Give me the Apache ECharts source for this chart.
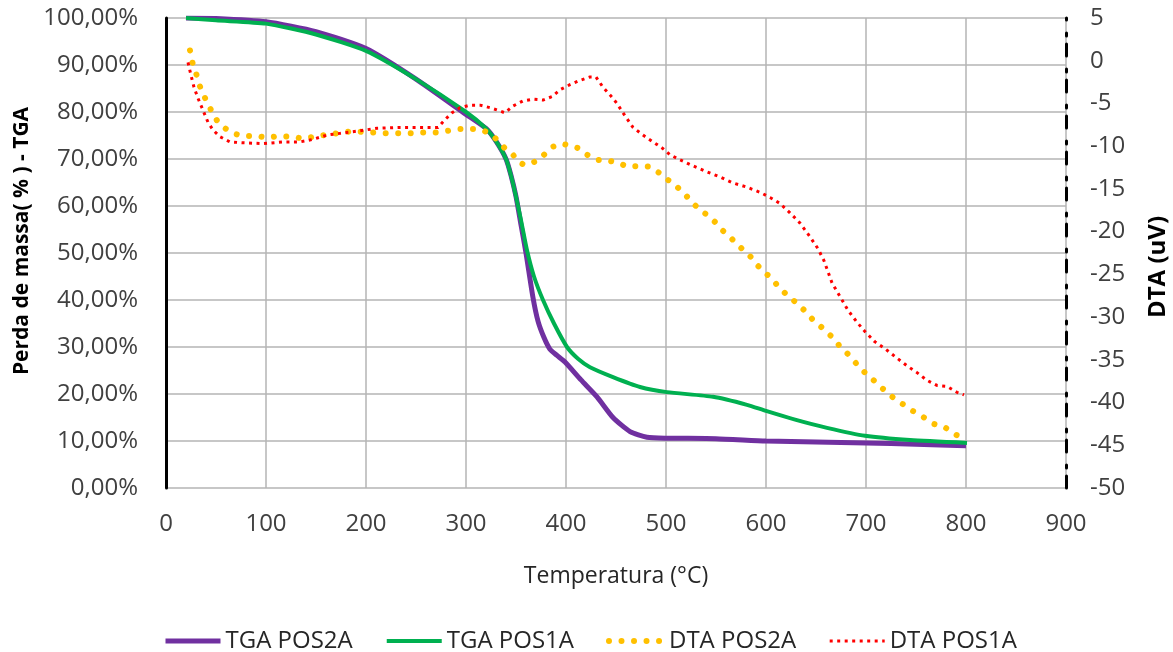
<!DOCTYPE html>
<html>
<head>
<meta charset="utf-8">
<script src="https://cdn.jsdelivr.net/npm/echarts@6/dist/echarts.min.js"></script>
<style>
html,body{margin:0;padding:0;background:#fff;}
#chart{width:1173px;height:652px;}
</style>
</head>
<body>
<div id="chart"></div>
<script>
// ---- Data ----
var seriesNames = ['TGA POS2A', 'TGA POS1A', 'DTA POS2A', 'DTA POS1A'];
var xTicks = [0, 100, 200, 300, 400, 500, 600, 700, 800, 900];

var tgaPos2A_T = [20, 50, 100, 150, 200, 250, 300, 320, 330, 340, 345, 350, 355, 360, 367, 372, 378, 384, 391, 399, 415, 431, 447, 464, 481, 500, 550, 600, 650, 700, 750, 800];
var tgaPos2A_V = [100, 99.9, 99.2, 97.1, 93.5, 87, 79.5, 76.5, 73.8, 70, 66.5, 62, 56, 50, 40.5, 35.5, 32, 29.5, 28.2, 26.8, 23, 19.4, 15, 12, 10.8, 10.6, 10.5, 10.0, 9.8, 9.6, 9.3, 9.0];

var tgaPos1A_T = [20, 50, 100, 150, 200, 250, 300, 320, 330, 340, 345, 350, 355, 361, 368, 377, 388, 401, 412, 424, 447, 474, 501, 547, 581, 600, 630, 661, 699, 744, 801];
var tgaPos1A_V = [100, 99.5, 98.8, 96.5, 93, 87, 80, 76.5, 73.8, 70, 66.5, 62, 57, 50.6, 45, 40, 35, 30, 27.5, 25.7, 23.6, 21.5, 20.4, 19.4, 17.7, 16.4, 14.5, 12.8, 11.1, 10.2, 9.6];

var dtaPos2A_T = [24, 27, 31, 34, 38, 42, 47, 52, 59, 67, 77, 90, 102, 114, 125, 137, 148, 159, 171, 183, 194, 207, 219, 232, 245, 257, 270, 282, 294, 307, 318, 327, 334, 340, 347, 353, 359, 365, 373, 379, 386, 395, 404, 414, 421, 431, 443, 453, 462, 474, 484, 493, 500, 508, 515, 521, 528, 536, 544, 551, 557, 564, 571, 579, 586, 592, 599, 606, 612, 619, 626, 633, 640, 646, 653, 660, 667, 673, 679, 686, 692, 699, 706, 712, 721, 728, 737, 744, 752, 760, 768, 779, 787, 794, 800];
var dtaPos2A_V = [1.2, -0.5, -1.8, -3, -4.1, -5.1, -6.2, -7.2, -7.9, -8.5, -8.8, -8.8, -9, -8.8, -8.9, -9.1, -8.9, -8.7, -8.5, -8.3, -8.3, -8.4, -8.5, -8.5, -8.5, -8.4, -8.4, -8.2, -8.0, -8.0, -8.2, -8.8, -9.6, -10.4, -11.0, -11.9, -12.2, -12.0, -11.6, -10.9, -10.1, -9.7, -9.9, -10.3, -11.0, -11.6, -11.7, -12.0, -12.4, -12.3, -12.4, -13.1, -13.8, -14.4, -15.2, -15.9, -16.8, -17.6, -18.3, -19.1, -19.9, -20.6, -21.5, -22.3, -23.1, -24.0, -24.8, -25.5, -26.4, -27.2, -27.9, -28.6, -29.4, -30.2, -30.9, -31.7, -32.4, -33.3, -34.0, -34.8, -35.7, -36.5, -37.2, -37.9, -38.8, -39.5, -40.2, -40.8, -41.3, -41.9, -42.5, -42.9, -43.6, -44.0, -44.3];

var dtaPos1A_T = [22, 25, 28, 32, 37, 42, 47, 54, 64, 77, 97, 117, 134, 147, 161, 174, 194, 211, 234, 264, 272, 279, 286, 294, 304, 314, 324, 332, 339, 347, 357, 367, 377, 386, 394, 404, 414, 424, 430, 437, 444, 451, 457, 467, 477, 487, 496, 504, 514, 527, 541, 554, 567, 581, 594, 604, 614, 624, 634, 644, 652, 658, 666, 674, 682, 691, 699, 709, 719, 731, 741, 751, 761, 771, 781, 791, 798];
var dtaPos1A_V = [-0.2, -1.7, -3.1, -4.4, -5.8, -7.2, -8.1, -8.9, -9.5, -9.6, -9.7, -9.5, -9.5, -9.2, -8.7, -8.5, -8.2, -7.9, -7.8, -7.8, -7.8, -6.9, -6.1, -5.5, -5.2, -5.2, -5.5, -5.8, -6.1, -5.3, -4.7, -4.5, -4.6, -4.2, -3.4, -2.8, -2.3, -1.9, -1.9, -3.1, -4.0, -5.0, -6.1, -7.8, -8.7, -9.5, -10.2, -11.0, -11.6, -12.3, -13.0, -13.6, -14.3, -14.8, -15.4, -16.0, -16.7, -17.8, -19.0, -20.6, -22.0, -23.4, -26.0, -27.6, -29.2, -30.6, -31.7, -32.9, -33.7, -34.8, -35.7, -36.5, -37.4, -38.0, -38.1, -38.8, -39.1];

function pairs(xs, ys) { return xs.map(function (x, i) { return [x, ys[i]]; }); }

var FONT = 'Open Sans';
var chart = echarts.init(document.getElementById('chart'), null, { renderer: 'canvas' });
chart.setOption({
  animation: false,
  backgroundColor: '#ffffff',
  grid: { left: 166, right: 107, top: 18, bottom: 164, containLabel: false, outerBoundsMode: 'none' },
  legend: {
    data: [
      { name: seriesNames[0], lineStyle: { width: 5 } },
      { name: seriesNames[1], lineStyle: { width: 4 } },
      { name: seriesNames[2], lineStyle: { width: 6 } },
      { name: seriesNames[3], lineStyle: { width: 3 } }
    ],
    left: 158, top: 624,
    itemWidth: 55, itemHeight: 20, itemGap: 32,
    itemStyle: { opacity: 0 },
    textStyle: { fontFamily: FONT, fontSize: 24, color: '#262626' }
  },
  xAxis: {
    type: 'value', min: 0, max: 900, interval: 100,
    name: 'Temperatura (°C)', nameLocation: 'middle', nameGap: 77,
    nameTextStyle: { fontFamily: FONT, fontSize: 23, color: '#262626' },
    axisLine: { show: false }, axisTick: { show: false },
    axisLabel: { fontFamily: FONT, fontSize: 24, color: '#404040', margin: 24 },
    splitLine: { show: true, lineStyle: { color: '#b4b4b4', width: 1.5 } }
  },
  yAxis: [{
    type: 'value', min: 0, max: 100, interval: 10, position: 'left',
    name: 'Perda de massa( % ) - TGA', nameLocation: 'middle', nameGap: 131,
    nameTextStyle: { fontFamily: FONT, fontSize: 21, fontWeight: 'bold', color: '#000', padding: [0, 0, 0, 24] },
    axisLine: { show: true, lineStyle: { color: '#000', width: 3 } },
    axisTick: { show: false },
    axisLabel: { fontFamily: FONT, fontSize: 24, color: '#404040', margin: 28,
      formatter: function (v) { return v.toFixed(2).replace('.', ',') + '%'; } },
    splitLine: { show: true, lineStyle: { color: '#b4b4b4', width: 1.5 } }
  }, {
    type: 'value', min: -50, max: 5, interval: 5, position: 'right',
    name: 'DTA (uV)', nameLocation: 'middle', nameGap: 80,
    nameTextStyle: { fontFamily: FONT, fontSize: 24, fontWeight: 'bold', color: '#000', padding: [0, 28, 0, 0] },
    axisLine: { show: true, lineStyle: { color: '#000', width: 3, type: [12, 8, 3, 13] } },
    axisTick: { show: false },
    axisLabel: { fontFamily: FONT, fontSize: 24, color: '#404040', margin: 24 },
    splitLine: { show: false }
  }],
  series: [{
    name: seriesNames[0], type: 'line', yAxisIndex: 0, showSymbol: false, symbol: 'none',
    data: pairs(tgaPos2A_T, tgaPos2A_V), smooth: 0.2,
    lineStyle: { color: '#7030A0', width: 5 }, itemStyle: { color: '#7030A0' }
  }, {
    name: seriesNames[1], type: 'line', yAxisIndex: 0, showSymbol: false, symbol: 'none',
    data: pairs(tgaPos1A_T, tgaPos1A_V), smooth: 0.2,
    lineStyle: { color: '#00B050', width: 4 }, itemStyle: { color: '#00B050' }
  }, {
    name: seriesNames[2], type: 'line', yAxisIndex: 1, showSymbol: false, symbol: 'none',
    data: pairs(dtaPos2A_T, dtaPos2A_V),
    lineStyle: { color: '#FFC000', width: 6, type: [0.01, 12.5], cap: 'round' }, itemStyle: { color: '#FFC000' }
  }, {
    name: seriesNames[3], type: 'line', yAxisIndex: 1, showSymbol: false, symbol: 'none',
    data: pairs(dtaPos1A_T, dtaPos1A_V),
    lineStyle: { color: '#FF0000', width: 3, type: [3, 4.5] }, itemStyle: { color: '#FF0000' }
  }]
});
</script>
</body>
</html>
